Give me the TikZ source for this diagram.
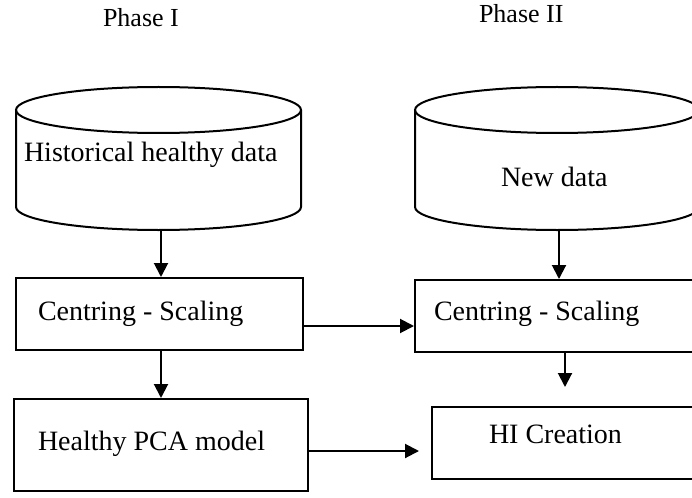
\documentclass[tikz,border=0pt]{standalone}
\usepackage{fontspec}
\setmainfont{Liberation Serif}
\usetikzlibrary{arrows.meta}
\begin{document}
\begin{tikzpicture}[x=1pt,y=-1pt,
  line width=2pt,
  box/.style={draw, rectangle, inner sep=0pt},
  lbl/.style={anchor=base west, inner sep=0pt, font=\fontsize{28}{34}\selectfont},
  phase/.style={anchor=base west, inner sep=0pt, font=\fontsize{26}{31}\selectfont},
  arr/.style={-{Triangle[length=14pt,width=14pt]}}]
\clip (0,0) rectangle (692,497);
\fill[white] (0,0) rectangle (692,497);
% phase titles
\node[phase] (p1) at (102,27) {Phase I};
\node[phase] (p2) at (478,23) {Phase II};
% cylinders
\node[inner sep=0pt, minimum width=285pt, minimum height=143pt] (db1) at (158.5,158.5) {};
\node[inner sep=0pt, minimum width=284pt, minimum height=143pt] (db2) at (557,158.5) {};
\draw (158.5,110) ellipse [x radius=142.5pt, y radius=23pt];
\draw (16,110) -- (16,207) arc [start angle=180, end angle=360, x radius=142.5pt, y radius=23pt] -- (301,110);
\draw (557,110) ellipse [x radius=142pt, y radius=23pt];
\draw (415,110) -- (415,207) arc [start angle=180, end angle=360, x radius=142pt, y radius=23pt] -- (699,110);
\node[lbl] (t1) at (23,161) {Historical healthy data};
\node[lbl] (t2) at (500,186) {New data};
% boxes
\node[box, minimum width=287pt, minimum height=72pt] (cs1) at (159.5,314) {};
\node[box, minimum width=294pt, minimum height=92pt] (hpca) at (161,445) {};
\node[box, minimum width=305pt, minimum height=72pt] (cs2) at (567.5,316) {};
\node[box, minimum width=288pt, minimum height=72pt] (hi) at (576,443) {};
\node[lbl] (t3) at (37,320) {Centring - Scaling};
\node[lbl] (t4) at (433,320) {Centring - Scaling};
\node[lbl] (t5) at (37,450) {Healthy PCA model};
\node[lbl] (t6) at (488,443) {HI Creation};
% connector coordinates
\coordinate (c1) at (161,230);
\coordinate (c2) at (559,230);
\coordinate (c3) at (0,326);
\coordinate (c4) at (565,387);
\coordinate (c5) at (0,451);
\coordinate (c6) at (419,451);
% connectors
\draw[arr] (c1) -- (c1 |- cs1.north);
\draw[arr] (c1 |- cs1.south) -- (c1 |- hpca.north);
\draw[arr] (cs1.east |- c3) -- (cs2.west |- c3);
\draw[arr] (c2) -- (c2 |- cs2.north);
\draw[arr] (c4 |- cs2.south) -- (c4);
\draw[arr] (hpca.east |- c5) -- (c6);
\end{tikzpicture}
\end{document}
